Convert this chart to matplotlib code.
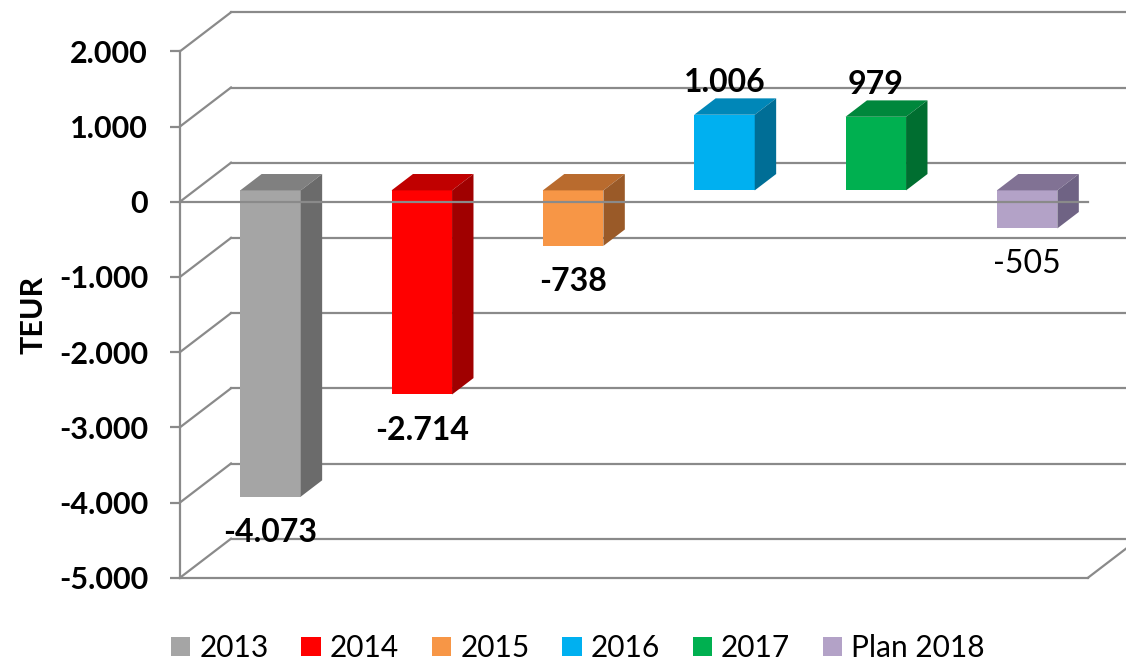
import numpy as np
import matplotlib
matplotlib.use("Agg")
import matplotlib.pyplot as plt
from matplotlib.patches import Polygon, Patch

plt.rcParams['font.family'] = ['Lato', 'DejaVu Sans']

# ------------------------------------------------------------
# Daten
# ------------------------------------------------------------
jahre = ["2013", "2014", "2015", "2016", "2017", "Plan 2018"]
werte = [-4073, -2714, -738, 1006, 979, -505]
farbe_front = ["#A5A5A5", "#FF0000", "#F79646", "#00B0F0", "#00B050", "#B3A2C7"]
farbe_oben = ["#808080", "#C00000", "#B96B2E", "#0087B8", "#00873C", "#817294"]
farbe_seite = ["#6B6B6B", "#A00000", "#9A5A28", "#006E96", "#006E30", "#6F6384"]
label_fett = [True, True, True, True, True, False]
y_ticks = [2000, 1000, 0, -1000, -2000, -3000, -4000, -5000]

# 3D-Tiefe (schräge Projektion) in Datenkoordinaten
tiefe_x = 51 / 151.3      # Kategorien
tiefe_y = 39 / 0.0752     # TEUR
f_vorn, f_hinten = 0.29, 0.71
breite = 0.40

gitter = "#8A8A8A"

fig = plt.figure(figsize=(11.26, 6.62), dpi=100)
ax = fig.add_axes([180 / 1126, 1 - 577.7 / 662, 908 / 1126, 526.4 / 662])
ax.set_xlim(0, len(jahre))
ax.set_ylim(-5000, 2000)

# Achse links
for s in ["top", "right", "bottom"]:
    ax.spines[s].set_visible(False)
ax.spines["left"].set_color(gitter)
ax.spines["left"].set_linewidth(1.6)
ax.set_xticks([])
ax.set_yticks(y_ticks)
ax.set_yticklabels([f"{v:,.0f}".replace(",", ".") for v in y_ticks],
                   fontsize=22, fontweight="bold")
ax.tick_params(axis="y", length=7, width=1.6, color=gitter, pad=16)
ax.set_ylabel("TEUR", fontsize=22, fontweight="bold", labelpad=8)

# Rückwand und Seitenwand
n = len(jahre)
for v in y_ticks:
    ax.plot([0, tiefe_x], [v, v + tiefe_y], color=gitter, lw=1.6,
            clip_on=False, zorder=1)
    ax.plot([tiefe_x, n + tiefe_x + 1], [v + tiefe_y, v + tiefe_y],
            color=gitter, lw=1.6, clip_on=False, zorder=1)
# Boden vorne
ax.plot([0, n], [-5000, -5000], color=gitter, lw=1.6, clip_on=False, zorder=1)
ax.plot([n, n + tiefe_x], [-5000, -5000 + tiefe_y], color=gitter, lw=1.6,
        clip_on=False, zorder=1)

# Säulen
for i, (v, cf, co, cs) in enumerate(zip(werte, farbe_front, farbe_oben, farbe_seite)):
    xl = i + 0.5 - breite / 2 + f_vorn * tiefe_x
    xr = xl + breite
    y0 = f_vorn * tiefe_y
    unten = y0 + min(0, v)
    oben = y0 + max(0, v)
    dx = (f_hinten - f_vorn) * tiefe_x
    dy = (f_hinten - f_vorn) * tiefe_y
    front = Polygon([(xl, unten), (xr, unten), (xr, oben), (xl, oben)],
                    closed=True, facecolor=cf, edgecolor="none", zorder=2)
    deckel = Polygon([(xl, oben), (xr, oben), (xr + dx, oben + dy), (xl + dx, oben + dy)],
                     closed=True, facecolor=co, edgecolor="none", zorder=2)
    seite = Polygon([(xr, unten), (xr, oben), (xr + dx, oben + dy), (xr + dx, unten + dy)],
                    closed=True, facecolor=cs, edgecolor="none", zorder=2)
    for p in (front, deckel, seite):
        p.set_clip_on(False)
        ax.add_patch(p)

    text = f"{v:,.0f}".replace(",", ".")
    off = 23 if v > 0 else -26
    ax.annotate(text, (xl + breite / 2, y0 + v), xytext=(0, off),
                textcoords="offset points", ha="center", va="center",
                fontsize=23, fontweight="bold" if label_fett[i] else "normal",
                zorder=5, annotation_clip=False)

# Null-Linie vorne (über den Säulen)
ax.plot([0, n], [0, 0], color=gitter, lw=1.6, clip_on=False, zorder=3)

# Legende
handles = [Patch(facecolor=c, edgecolor="none") for c in farbe_front]
fig.legend(handles, jahre, loc="center", bbox_to_anchor=(578 / 1126, 1 - 648 / 662),
           ncol=6, frameon=False, fontsize=21.5, handlelength=0.65, handleheight=0.65,
           handletextpad=0.3, columnspacing=1.1, borderaxespad=0)

fig.savefig("out.png", dpi=100)
